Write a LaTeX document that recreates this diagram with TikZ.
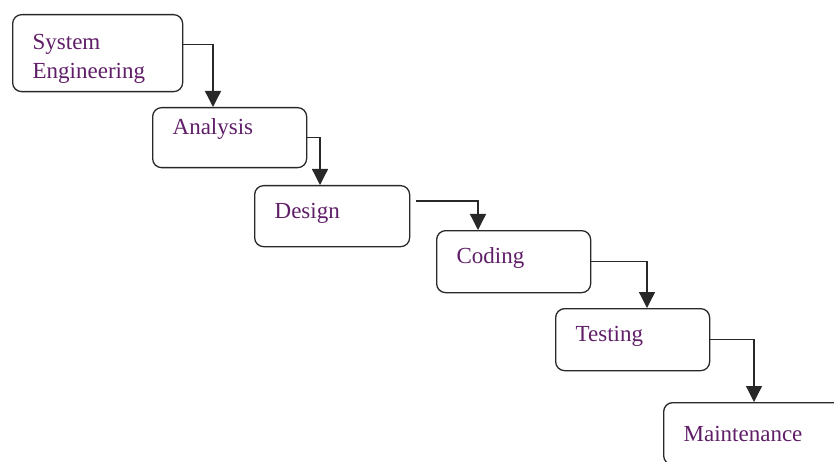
\documentclass[tikz,border=0pt]{standalone}
\usepackage{fontspec}
\setmainfont{Liberation Serif}
\usetikzlibrary{arrows.meta}

\definecolor{phasetext}{RGB}{96,30,104}
\definecolor{phaseline}{RGB}{40,40,40}

\tikzset{
  phase/.style={draw=phaseline, line width=1.3pt, rounded corners=9pt,
    anchor=north west, align=left, inner xsep=20pt, text=phasetext,
    font=\fontsize{23}{29}\selectfont},
  flow/.style={draw=phaseline, line width=1.3pt,
    -{Triangle[width=16pt,length=16pt]}}
}

\begin{document}
\begin{tikzpicture}[x=1pt,y=-1pt]
    \useasboundingbox (0,0) rectangle (834,462);
    \clip (0,0) rectangle (834,462);

    % the six phases, top left to bottom right
    \node[phase, text width=130pt, minimum height=77pt, text height=26pt] (sys) at (12,14) {System\\Engineering};
    \node[phase, text width=114pt, minimum height=60pt, text depth=23pt] (ana) at (152,107) {Analysis};
    \node[phase, text width=115pt, minimum height=61pt, text depth=11pt] (des) at (254,185) {Design};
    \node[phase, text width=114pt, minimum height=62pt, text depth=13pt] (cod) at (436,230) {Coding};
    \node[phase, text width=114pt, minimum height=62pt, text depth=11pt] (tst) at (555,308) {Testing};
    \node[phase, text width=160pt, minimum height=62pt] (mnt) at (663,402) {Maintenance};

    % arrows from one phase to the next
    \draw[flow] ([yshift=8.5pt]sys.east) -| ([xshift=61pt]ana.north west);
    \draw[flow] (ana.east) -| ([xshift=66pt]des.north west);
    \draw[flow] ([xshift=6pt,yshift=15pt]des.east) -| ([xshift=42pt]cod.north west);
    \draw[flow] (cod.east) -| ([xshift=92pt]tst.north west);
    \draw[flow] (tst.east) -| ([xshift=91pt]mnt.north west);
\end{tikzpicture}
\end{document}
